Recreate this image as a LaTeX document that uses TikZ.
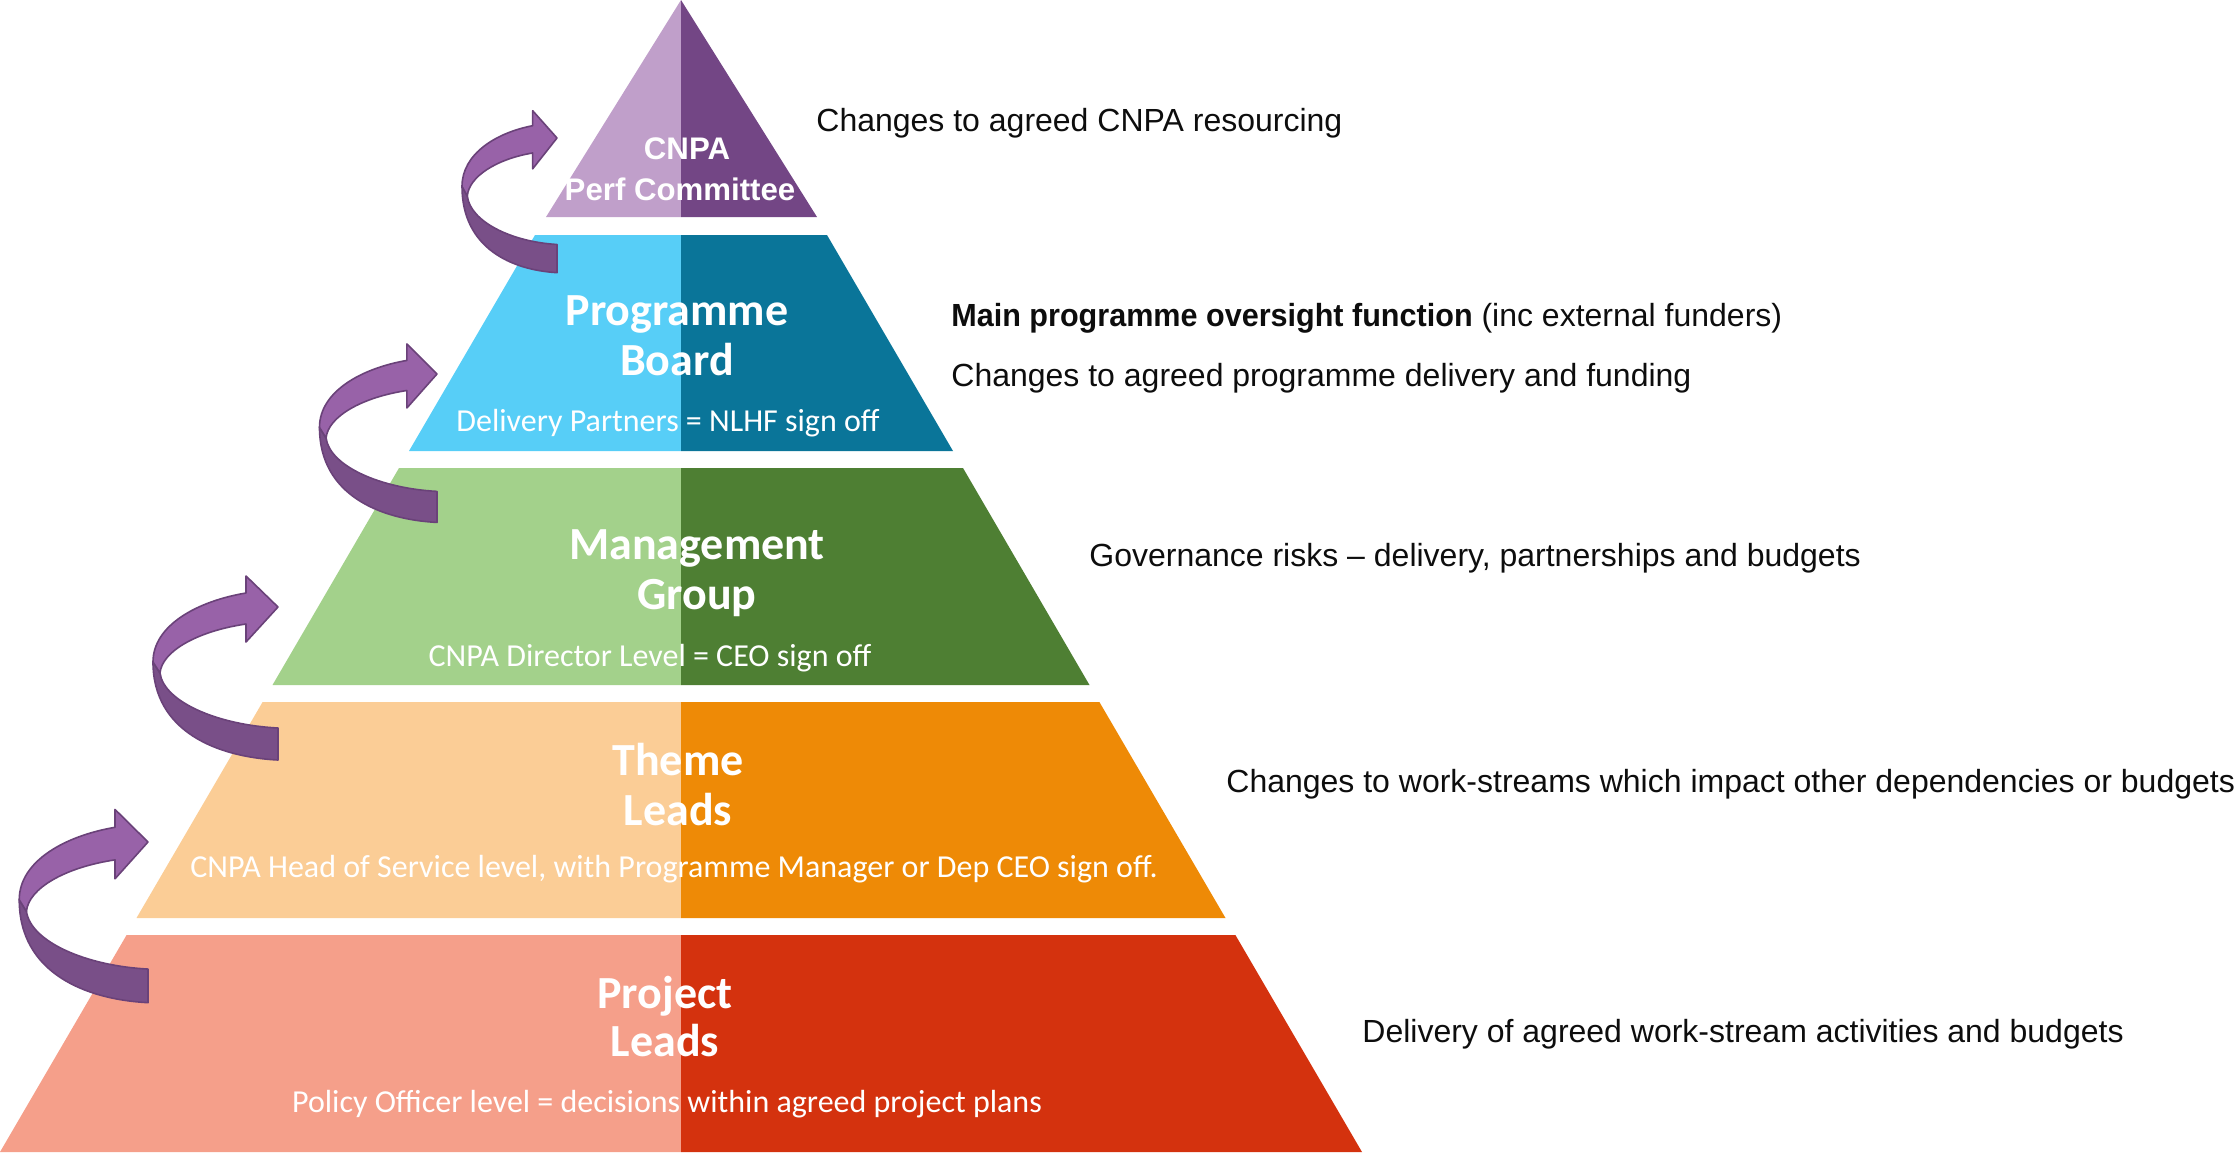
\documentclass[tikz,border=0pt]{standalone}
\usepackage{fontspec}
\setmainfont{Liberation Sans}
\newfontfamily\calib{Carlito}

\definecolor{purL}{RGB}{192,159,202}
\definecolor{purD}{RGB}{115,70,133}
\definecolor{bluL}{RGB}{87,206,247}
\definecolor{bluD}{RGB}{10,117,153}
\definecolor{grnL}{RGB}{163,209,139}
\definecolor{grnD}{RGB}{78,127,51}
\definecolor{orgL}{RGB}{251,205,150}
\definecolor{orgD}{RGB}{238,138,6}
\definecolor{redL}{RGB}{245,159,138}
\definecolor{redD}{RGB}{212,50,14}
\definecolor{arrLight}{RGB}{152,98,168}
\definecolor{arrDark}{RGB}{121,79,136}
\definecolor{arrEdge}{RGB}{106,66,121}
\definecolor{sideText}{RGB}{13,13,13}

\tikzset{
  title/.style={anchor=base, text=white, inner sep=0pt,
    font=\calib\bfseries\fontsize{23}{25}\selectfont},
  subtitle/.style={anchor=base, text=white, inner sep=0pt,
    font=\calib\fontsize{16}{18}\selectfont},
  toptitle/.style={anchor=base, text=white, inner sep=0pt,
    font=\bfseries\fontsize{15.6}{17}\selectfont},
  sidenote/.style={anchor=base west, text=sideText, inner sep=0pt,
    font=\fontsize{16}{18}\selectfont},
  arrfront/.style={fill=arrLight, draw=arrEdge, line width=0.8pt, line join=round},
  arrback/.style={fill=arrDark, draw=arrEdge, line width=0.8pt, line join=round},
}

% one curved "move up" arrow; #1 = tip, #2/#3 = horizontal/vertical scale
\newcommand{\escalate}[3]{%
  \begin{scope}[shift={#1}, xscale=#2, yscale=#3]
    \filldraw[arrback] (-125,55) .. controls (-125,125) and (-60,150) .. (0,153)
      -- (0,121) .. controls (-60,118) and (-114,95) .. (-118,66) -- cycle;
    \filldraw[arrfront] (-32,17) -- (-32,35) -- (0,0) -- (-32,-31) -- (-32,-14)
      .. controls (-80,-6) and (-125,18) .. (-125,55)
      -- (-118,66) .. controls (-116,44) and (-80,24) .. (-32,17) -- cycle;
  \end{scope}}

\begin{document}
\begin{tikzpicture}[x=0.5pt, y=-0.5pt]
\useasboundingbox (0,0) rectangle (2236,1152);

% pyramid tiers: light left half, dark right half
\fill[purL] (681,0) -- (546,217) -- (681,217) -- cycle;
\fill[purD] (681,0) -- (681,217) -- (817,217) -- cycle;

\fill[bluL] (535,235) -- (681,235) -- (681,451) -- (409,451) -- cycle;
\fill[bluD] (681,235) -- (827,235) -- (953,451) -- (681,451) -- cycle;

\fill[grnL] (399,468) -- (681,468) -- (681,685) -- (272.5,685) -- cycle;
\fill[grnD] (681,468) -- (963,468) -- (1089.5,685) -- (681,685) -- cycle;

\fill[orgL] (262.6,702) -- (681,702) -- (681,918) -- (136.5,918) -- cycle;
\fill[orgD] (681,702) -- (1099.4,702) -- (1225.5,918) -- (681,918) -- cycle;

\fill[redL] (126.6,935) -- (681,935) -- (681,1152) -- (0,1152) -- cycle;
\fill[redD] (681,935) -- (1235.4,935) -- (1362,1152) -- (681,1152) -- cycle;

% tier labels
\node[toptitle] (cnpa) at (687,159) {CNPA};
\node[toptitle] (perf) at (680,200) {Perf Committee};

\node[title] (pb1) at (677,325) {Programme};
\node[title] (pb2) at (677,375) {Board};
\node[subtitle] (pbs) at (668,431) {Delivery Partners = NLHF sign off};

\node[title] (mg1) at (697,559) {Management};
\node[title] (mg2) at (697,609) {Group};
\node[subtitle] (mgs) at (650,666) {CNPA Director Level = CEO sign off};

\node[title] (tl1) at (678,775) {Theme};
\node[title] (tl2) at (678,825) {Leads};
\node[subtitle] (tls) at (674,877) {CNPA Head of Service level, with Programme Manager or Dep CEO sign off.};

\node[title] (pl1) at (665,1008) {Project};
\node[title] (pl2) at (665,1056) {Leads};
\node[subtitle] (pls) at (667,1112) {Policy Officer level = decisions within agreed project plans};

% escalation arrows between tiers
\escalate{(557,138)}{0.76}{0.88}
\escalate{(437,374)}{0.94}{0.97}
\escalate{(278,607)}{1}{1}
\escalate{(148,842)}{1.03}{1.05}

% responsibilities beside each tier
\node[sidenote] (n1) at (816,131) {Changes to agreed CNPA resourcing};
\node[sidenote] (n2) at (951,326) {\scalebox{0.955}[1]{\textbf{Main programme oversight function}} (inc external funders)};
\node[sidenote] (n3) at (951,386) {Changes to agreed programme delivery and funding};
\node[sidenote] (n4) at (1089,566) {Governance risks -- delivery, partnerships and budgets};
\node[sidenote] (n5) at (1226,792) {Changes to work-streams which impact other dependencies or budgets};
\node[sidenote] (n6) at (1362,1042) {Delivery of agreed work-stream activities and budgets};
\end{tikzpicture}
\end{document}
